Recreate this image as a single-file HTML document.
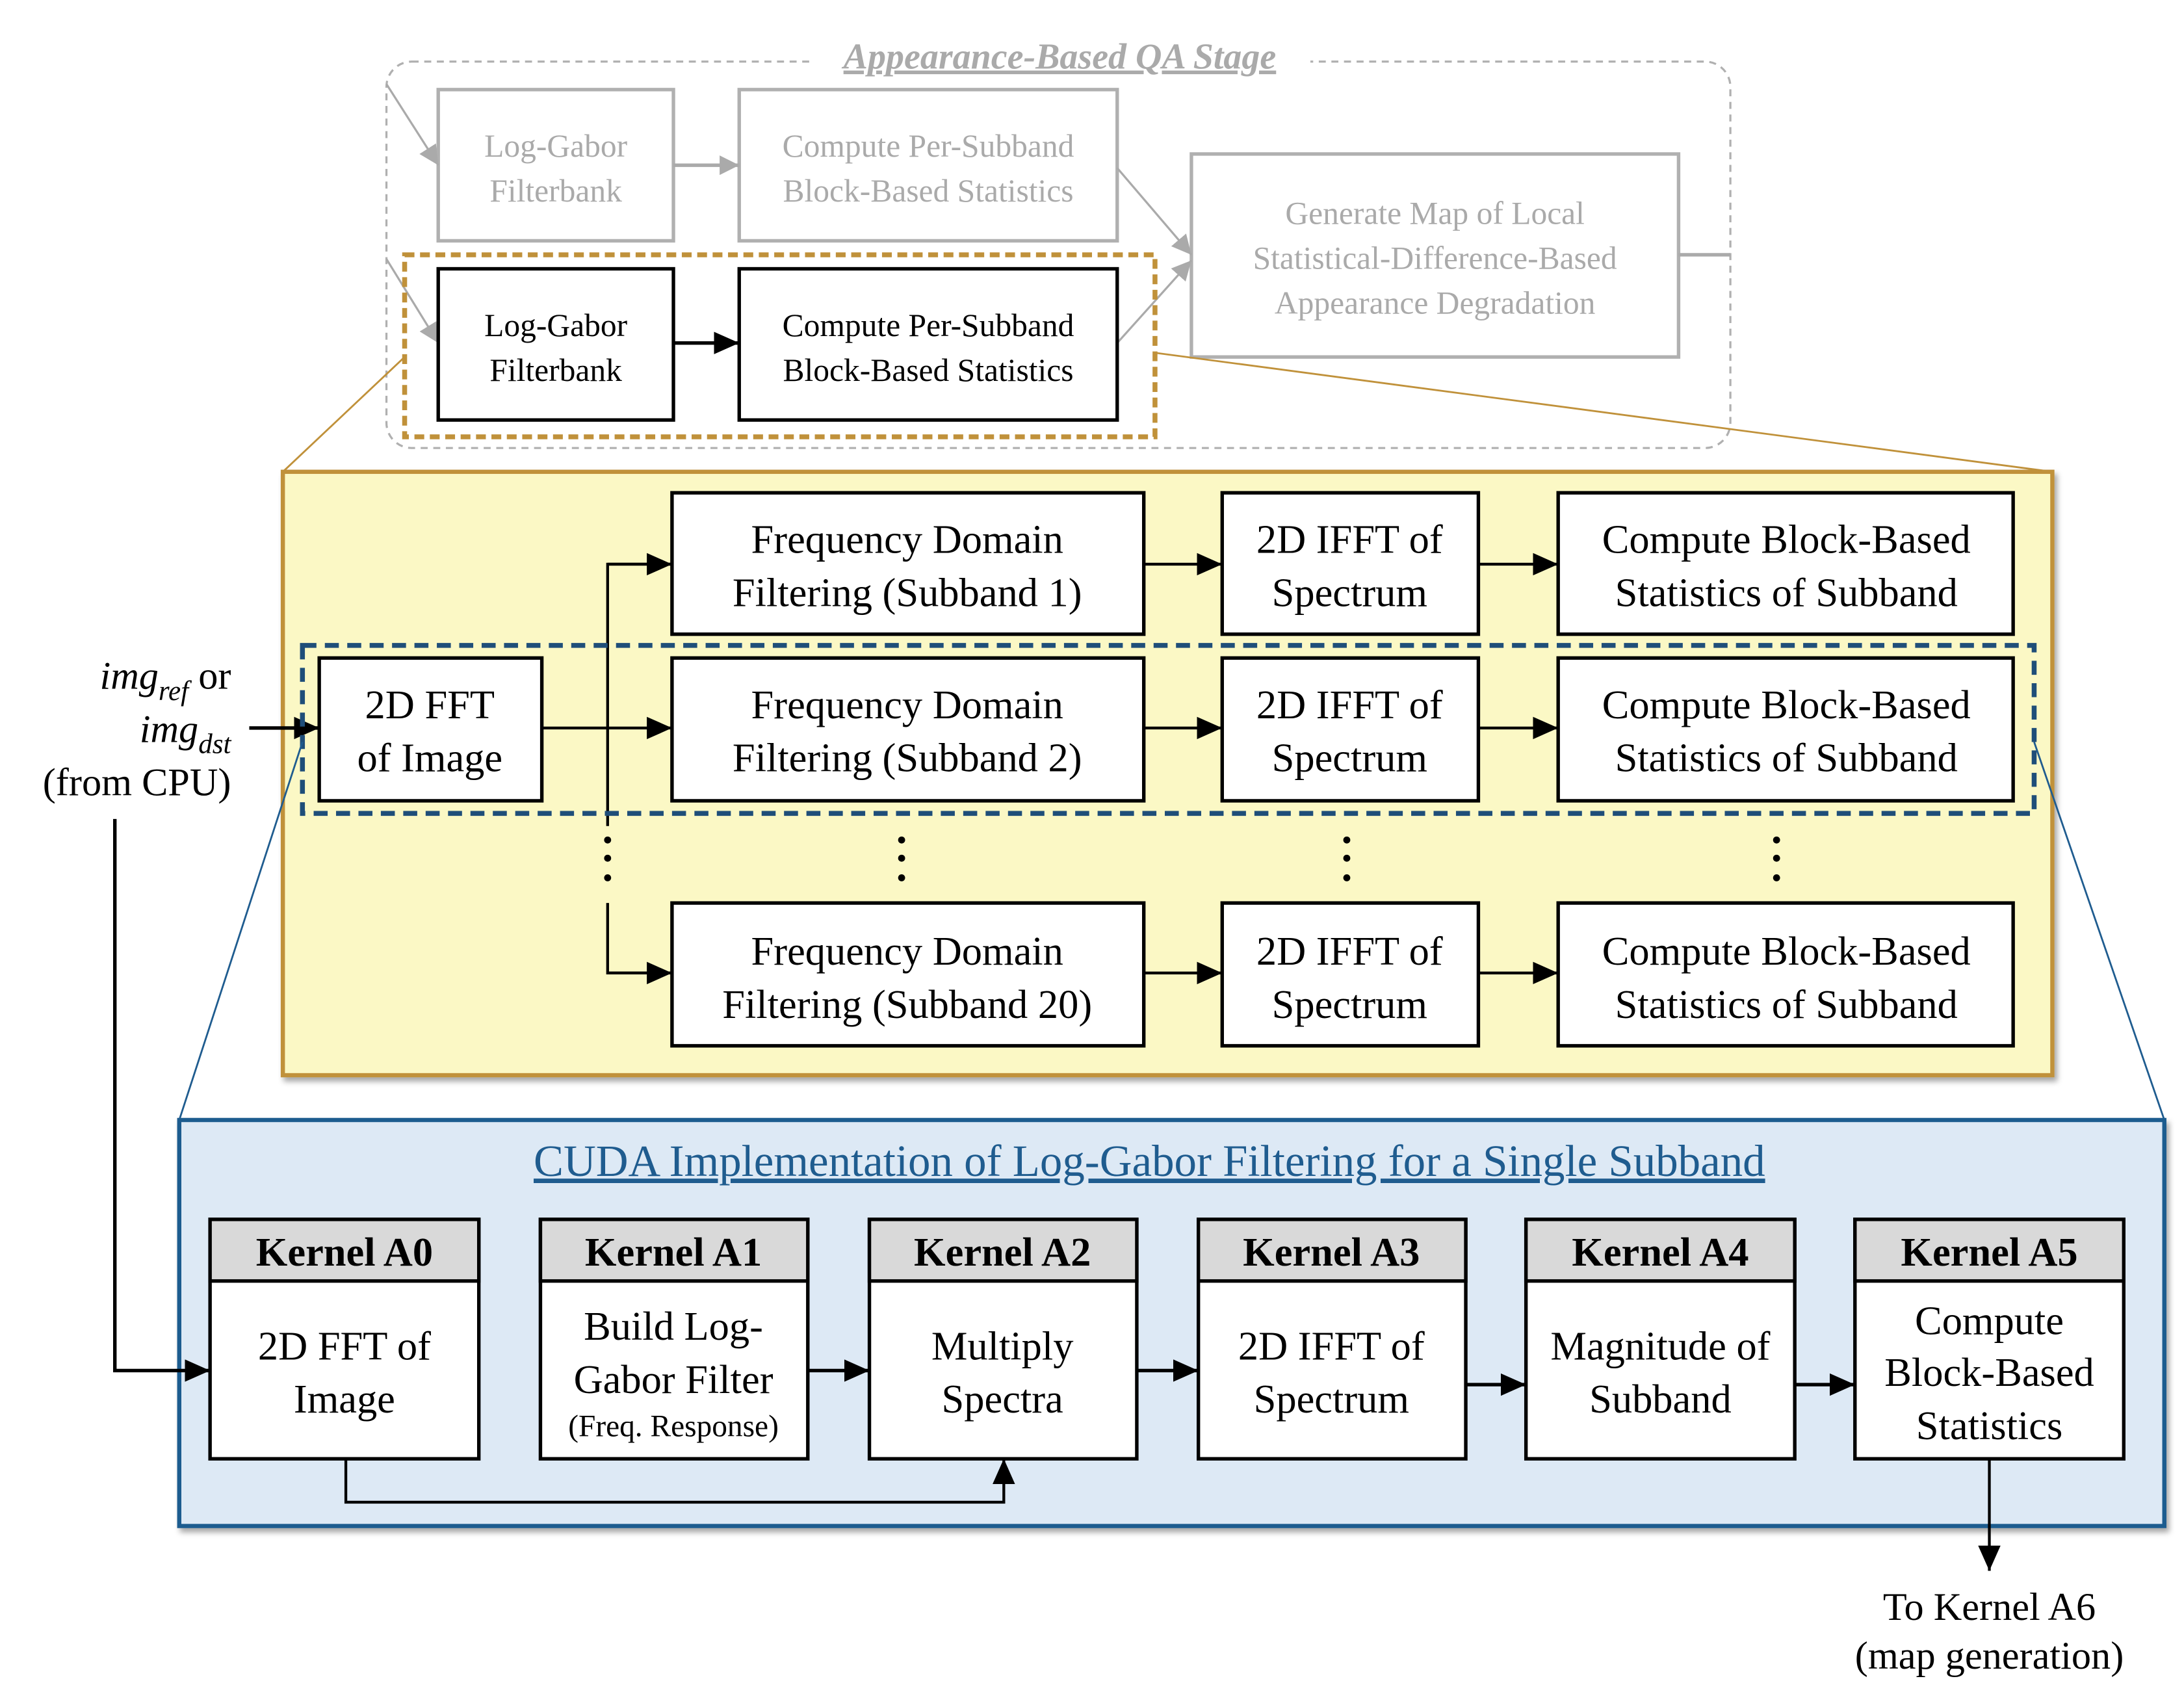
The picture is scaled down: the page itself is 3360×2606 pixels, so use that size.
<!DOCTYPE html>
<html><head><meta charset="utf-8"><style>
html,body{margin:0;padding:0;background:#fff}
svg{display:block}
text{font-family:"Liberation Serif","Times New Roman",serif}
</style></head><body>
<svg width="3360" height="2606" viewBox="0 0 1560 1210" xmlns="http://www.w3.org/2000/svg">
<defs>
<marker id="ag" markerWidth="16" markerHeight="16" refX="14" refY="7" orient="auto" markerUnits="userSpaceOnUse"><path d="M0,0 L14,7 L0,14 z" fill="#aaa"/></marker>
<marker id="abL" markerWidth="20" markerHeight="20" refX="18" refY="8" orient="auto" markerUnits="userSpaceOnUse"><path d="M0,0 L18,8 L0,16 z" fill="#000"/></marker>
<filter id="sh" x="-5%" y="-5%" width="110%" height="110%"><feDropShadow dx="2" dy="3" stdDeviation="2" flood-color="#000" flood-opacity="0.35"/></filter>
</defs>

<rect x="276" y="44" width="960" height="276" rx="18" fill="none" stroke="#b0b0b0" stroke-width="1.5" stroke-dasharray="5,4"/>
<rect x="578" y="24" width="358" height="30" fill="#fff"/>
<text x="757" y="49" font-size="26" font-style="italic" font-weight="bold" fill="#aaa" text-anchor="middle" text-decoration="underline">Appearance-Based QA Stage</text>

<g fill="#fff" stroke="#b0b0b0" stroke-width="2.5">
<rect x="313" y="64" width="168" height="108"/>
<rect x="528" y="64" width="270" height="108"/>
<rect x="851" y="110" width="348" height="145"/>
</g>
<g font-size="23" fill="#aaa" text-anchor="middle">
<text x="397" y="112">Log-Gabor</text><text x="397" y="144">Filterbank</text>
<text x="663" y="112">Compute Per-Subband</text><text x="663" y="144">Block-Based Statistics</text>
<text x="1025" y="160">Generate Map of Local</text><text x="1025" y="192">Statistical-Difference-Based</text><text x="1025" y="224">Appearance Degradation</text>
</g>
<g stroke="#aaa" stroke-width="1.5" fill="none">
<line x1="276" y1="60" x2="313" y2="118" marker-end="url(#ag)"/>
<line x1="276" y1="185" x2="313" y2="245" marker-end="url(#ag)"/>
<line x1="481" y1="118" x2="528" y2="118" stroke-width="2.5" marker-end="url(#ag)"/>
<line x1="798" y1="120" x2="851" y2="182" marker-end="url(#ag)"/>
<line x1="798" y1="245" x2="851" y2="186" marker-end="url(#ag)"/>
<line x1="1199" y1="182" x2="1236" y2="182" stroke-width="2.5"/>
</g>

<rect x="313" y="192" width="168" height="108" fill="#fff" stroke="#000" stroke-width="2.5"/>
<rect x="528" y="192" width="270" height="108" fill="#fff" stroke="#000" stroke-width="2.5"/>
<line x1="481" y1="245" x2="528" y2="245" stroke="#000" stroke-width="2.5" marker-end="url(#abL)"/>
<g font-size="23" fill="#000" text-anchor="middle">
<text x="397" y="240">Log-Gabor</text><text x="397" y="272">Filterbank</text>
<text x="663" y="240">Compute Per-Subband</text><text x="663" y="272">Block-Based Statistics</text>
</g>
<rect x="289" y="182" width="536" height="130" fill="none" stroke="#c0913a" stroke-width="3.5" stroke-dasharray="7,4"/>
<line x1="289" y1="255" x2="202" y2="337" stroke="#c0913a" stroke-width="1.3"/>
<line x1="825" y1="252" x2="1466" y2="337" stroke="#c0913a" stroke-width="1.3"/>

<rect x="202" y="337" width="1264" height="431" fill="#fbf8c5" stroke="#c0913a" stroke-width="3" filter="url(#sh)"/>

<g fill="#fff" stroke="#000" stroke-width="2.5">
<rect x="480" y="352" width="337" height="101"/><rect x="873" y="352" width="183" height="101"/><rect x="1113" y="352" width="325" height="101"/>
<rect x="228" y="470" width="159" height="102"/>
<rect x="480" y="470" width="337" height="102"/><rect x="873" y="470" width="183" height="102"/><rect x="1113" y="470" width="325" height="102"/>
<rect x="480" y="645" width="337" height="102"/><rect x="873" y="645" width="183" height="102"/><rect x="1113" y="645" width="325" height="102"/>
</g>
<g font-size="29" text-anchor="middle" fill="#000">
<text x="648" y="395">Frequency Domain</text><text x="648" y="433">Filtering (Subband 1)</text>
<text x="964" y="395">2D IFFT of</text><text x="964" y="433">Spectrum</text>
<text x="1276" y="395">Compute Block-Based</text><text x="1276" y="433">Statistics of Subband</text>
<text x="307" y="513">2D FFT</text><text x="307" y="551">of Image</text>
<text x="648" y="513">Frequency Domain</text><text x="648" y="551">Filtering (Subband 2)</text>
<text x="964" y="513">2D IFFT of</text><text x="964" y="551">Spectrum</text>
<text x="1276" y="513">Compute Block-Based</text><text x="1276" y="551">Statistics of Subband</text>
<text x="648" y="689">Frequency Domain</text><text x="648" y="727">Filtering (Subband 20)</text>
<text x="964" y="689">2D IFFT of</text><text x="964" y="727">Spectrum</text>
<text x="1276" y="689">Compute Block-Based</text><text x="1276" y="727">Statistics of Subband</text>
</g>
<g stroke="#000" stroke-width="2" fill="none">
<polyline points="480,403 434,403 434,590"/>
<polyline points="434,645 434,695 480,695"/>
<line x1="434" y1="403" x2="480" y2="403" marker-end="url(#abL)"/>
<line x1="434" y1="695" x2="480" y2="695" marker-end="url(#abL)"/>
<line x1="387" y1="520" x2="480" y2="520" marker-end="url(#abL)"/>
<line x1="817" y1="403" x2="873" y2="403" marker-end="url(#abL)"/>
<line x1="817" y1="520" x2="873" y2="520" marker-end="url(#abL)"/>
<line x1="817" y1="695" x2="873" y2="695" marker-end="url(#abL)"/>
<line x1="1056" y1="403" x2="1113" y2="403" marker-end="url(#abL)"/>
<line x1="1056" y1="520" x2="1113" y2="520" marker-end="url(#abL)"/>
<line x1="1056" y1="695" x2="1113" y2="695" marker-end="url(#abL)"/>
<line x1="178" y1="520" x2="228" y2="520" stroke-width="2.5" marker-end="url(#abL)"/>
</g>
<g fill="#000">
<circle cx="434" cy="600" r="2.5"/><circle cx="434" cy="613" r="2.5"/><circle cx="434" cy="627" r="2.5"/>
<circle cx="644" cy="600" r="2.5"/><circle cx="644" cy="613" r="2.5"/><circle cx="644" cy="627" r="2.5"/>
<circle cx="962" cy="600" r="2.5"/><circle cx="962" cy="613" r="2.5"/><circle cx="962" cy="627" r="2.5"/>
<circle cx="1269" cy="600" r="2.5"/><circle cx="1269" cy="613" r="2.5"/><circle cx="1269" cy="627" r="2.5"/>
</g>
<rect x="216" y="461" width="1237" height="120" fill="none" stroke="#1f4e79" stroke-width="3.5" stroke-dasharray="10,6"/>

<g font-size="28" fill="#000" text-anchor="end">
<text x="165" y="492"><tspan font-style="italic">img</tspan><tspan font-style="italic" font-size="20" dy="8">ref</tspan><tspan dy="-8"> or</tspan></text>
<text x="165" y="530"><tspan font-style="italic">img</tspan><tspan font-style="italic" font-size="20" dy="8">dst</tspan></text>
<text x="165" y="568">(from CPU)</text>
</g>

<line x1="216" y1="530" x2="128" y2="800" stroke="#1f5c8f" stroke-width="1.3"/>
<line x1="1453" y1="530" x2="1546" y2="800" stroke="#1f5c8f" stroke-width="1.3"/>

<rect x="128" y="800" width="1418" height="290" fill="#dde9f5" stroke="#1f5c8f" stroke-width="3" filter="url(#sh)"/>
<text x="821" y="840" font-size="32" fill="#1f5c8f" text-anchor="middle" text-decoration="underline">CUDA Implementation of Log-Gabor Filtering for a Single Subband</text>

<g stroke="#000" stroke-width="2.5">
<rect x="150" y="871" width="192" height="171" fill="#fff"/><rect x="150" y="871" width="192" height="44" fill="#d9d9d9"/>
<rect x="386" y="871" width="191" height="171" fill="#fff"/><rect x="386" y="871" width="191" height="44" fill="#d9d9d9"/>
<rect x="621" y="871" width="191" height="171" fill="#fff"/><rect x="621" y="871" width="191" height="44" fill="#d9d9d9"/>
<rect x="856" y="871" width="191" height="171" fill="#fff"/><rect x="856" y="871" width="191" height="44" fill="#d9d9d9"/>
<rect x="1090" y="871" width="192" height="171" fill="#fff"/><rect x="1090" y="871" width="192" height="44" fill="#d9d9d9"/>
<rect x="1325" y="871" width="192" height="171" fill="#fff"/><rect x="1325" y="871" width="192" height="44" fill="#d9d9d9"/>
</g>
<g font-size="29" font-weight="bold" text-anchor="middle" fill="#000">
<text x="246" y="904">Kernel A0</text><text x="481" y="904">Kernel A1</text><text x="716" y="904">Kernel A2</text>
<text x="951" y="904">Kernel A3</text><text x="1186" y="904">Kernel A4</text><text x="1421" y="904">Kernel A5</text>
</g>
<g font-size="29" text-anchor="middle" fill="#000">
<text x="246" y="971">2D FFT of</text><text x="246" y="1009">Image</text>
<text x="481" y="957">Build Log-</text><text x="481" y="995">Gabor Filter</text><text x="481" y="1026" font-size="22">(Freq. Response)</text>
<text x="716" y="971">Multiply</text><text x="716" y="1009">Spectra</text>
<text x="951" y="971">2D IFFT of</text><text x="951" y="1009">Spectrum</text>
<text x="1186" y="971">Magnitude of</text><text x="1186" y="1009">Subband</text>
<text x="1421" y="953">Compute</text><text x="1421" y="990">Block-Based</text><text x="1421" y="1028">Statistics</text>
</g>
<g stroke="#000" stroke-width="2.5" fill="none">
<polyline points="82,585 82,979 150,979" marker-end="url(#abL)"/>
<line x1="577" y1="979" x2="621" y2="979" marker-end="url(#abL)"/>
<line x1="812" y1="979" x2="856" y2="979" marker-end="url(#abL)"/>
<line x1="1047" y1="989" x2="1090" y2="989" marker-end="url(#abL)"/>
<line x1="1282" y1="989" x2="1325" y2="989" marker-end="url(#abL)"/>
<polyline points="247,1042 247,1073 717,1073 717,1042" stroke-width="2" marker-end="url(#abL)"/>
<line x1="1421" y1="1042" x2="1421" y2="1122" stroke-width="2" marker-end="url(#abL)"/>
</g>
<text x="1421" y="1157" font-size="28" text-anchor="middle">To Kernel A6</text>
<text x="1421" y="1192" font-size="28" text-anchor="middle">(map generation)</text>
</svg>
</body></html>
